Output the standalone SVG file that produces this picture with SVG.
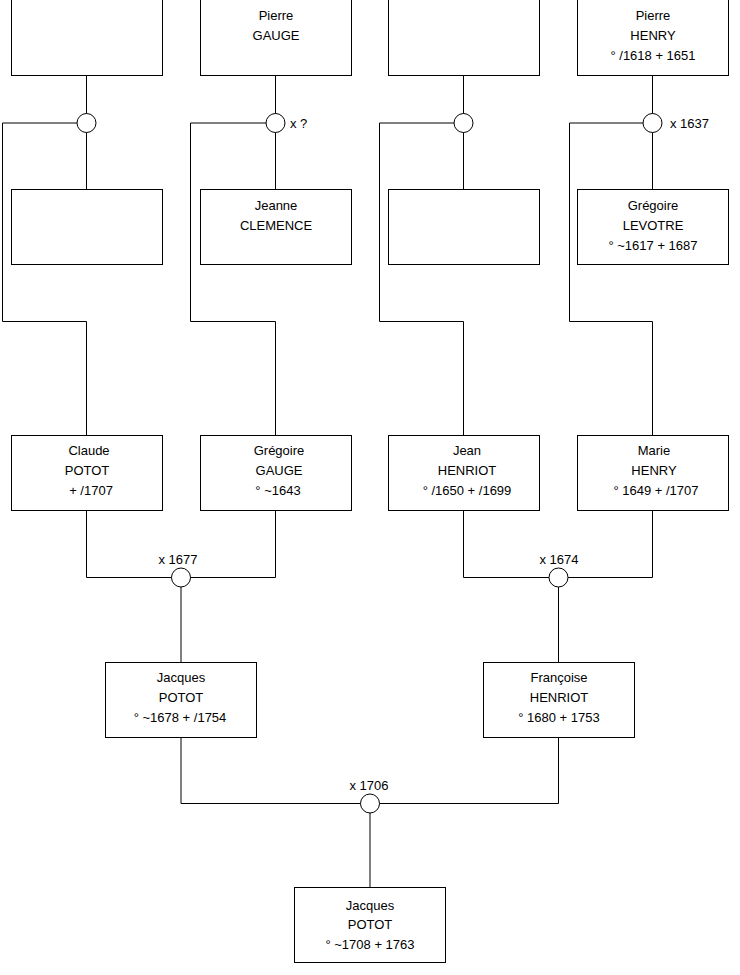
<svg xmlns="http://www.w3.org/2000/svg" width="740" height="975" viewBox="0 0 740 975">
<style>
.box{fill:#fff;stroke:#000;stroke-width:1}
.ln{fill:none;stroke:#000;stroke-width:1}
.ring{fill:#fff;stroke:#000;stroke-width:1}
text{font-family:"Liberation Sans",Arial,sans-serif;font-size:13px;fill:#000}
.c{text-anchor:middle}
</style>
<rect width="740" height="975" fill="#fff"/>
<g id="connectors">
<path class="ln" d="M86.5 75.5V189.5M86.5 123H2.5V321.5H86.5V435.5"/>
<path class="ln" d="M275.5 75.5V189.5M275.5 123H190.5V321.5H275.5V435.5"/>
<path class="ln" d="M463.5 75.5V189.5M463.5 123H379.5V321.5H463.5V435.5"/>
<path class="ln" d="M652.5 75.5V189.5M652.5 123H569.5V321.5H652.5V435.5"/>
<path class="ln" d="M86.5 510.5V577.5H275.5V510.5M181 577.5V662.5"/>
<path class="ln" d="M463.5 510.5V577.5H652.5V510.5M558.5 577.5V662.5"/>
<path class="ln" d="M181 737.5V803.5H558.5V737.5M370 803.5V887.5"/>
<circle class="ring" cx="86.5" cy="123" r="9.5"/>
<circle class="ring" cx="275.5" cy="123" r="9.5"/>
<circle class="ring" cx="463.5" cy="123" r="9.5"/>
<circle class="ring" cx="652.5" cy="123" r="9.5"/>
<circle class="ring" cx="181" cy="577.5" r="9.5"/>
<circle class="ring" cx="558.5" cy="577.5" r="9.5"/>
<circle class="ring" cx="370" cy="803.5" r="9.5"/>
<text x="290" y="127.5">x ?</text>
<text x="670" y="127.5">x 1637</text>
<text class="c" x="178" y="563.5">x 1677</text>
<text class="c" x="559" y="563.5">x 1674</text>
<text class="c" x="369" y="789.5">x 1706</text>
</g>
<g id="n1"><rect class="box" x="11.5" y="-0.5" width="151" height="76"/></g>
<g id="n2"><rect class="box" x="200.5" y="-0.5" width="151" height="76"/>
<text class="c" x="276" y="19.5">Pierre</text><text class="c" x="276" y="39.5">GAUGE</text></g>
<g id="n3"><rect class="box" x="388.5" y="-0.5" width="151" height="76"/></g>
<g id="n4"><rect class="box" x="577.5" y="-0.5" width="151" height="76"/>
<text class="c" x="653" y="19.5">Pierre</text><text class="c" x="653" y="39.5">HENRY</text><text class="c" x="653" y="59.5">° /1618 + 1651</text></g>
<g id="n5"><rect class="box" x="11.5" y="189.5" width="151" height="75"/></g>
<g id="n6"><rect class="box" x="200.5" y="189.5" width="151" height="75"/>
<text class="c" x="276" y="209.5">Jeanne</text><text class="c" x="276" y="229.5">CLEMENCE</text></g>
<g id="n7"><rect class="box" x="388.5" y="189.5" width="151" height="75"/></g>
<g id="n8"><rect class="box" x="577.5" y="189.5" width="151" height="75"/>
<text class="c" x="653" y="209.5">Grégoire</text><text class="c" x="653" y="229.5">LEVOTRE</text><text class="c" x="653" y="249.5">° ~1617 + 1687</text></g>
<g id="n9"><rect class="box" x="11.5" y="435.5" width="151" height="75"/>
<text class="c" x="89" y="455">Claude</text><text class="c" x="87" y="475">POTOT</text><text class="c" x="91" y="495">+ /1707</text></g>
<g id="n10"><rect class="box" x="200.5" y="435.5" width="151" height="75"/>
<text class="c" x="279" y="455">Grégoire</text><text class="c" x="279" y="475">GAUGE</text><text class="c" x="278" y="495">° ~1643</text></g>
<g id="n11"><rect class="box" x="388.5" y="435.5" width="151" height="75"/>
<text class="c" x="467" y="455">Jean</text><text class="c" x="467" y="475">HENRIOT</text><text class="c" x="467" y="495">° /1650 + /1699</text></g>
<g id="n12"><rect class="box" x="577.5" y="435.5" width="151" height="75"/>
<text class="c" x="654" y="455">Marie</text><text class="c" x="654" y="475">HENRY</text><text class="c" x="656" y="495">° 1649 + /1707</text></g>
<g id="n13"><rect class="box" x="105.5" y="662.5" width="151" height="75"/>
<text class="c" x="181" y="682">Jacques</text><text class="c" x="181" y="702">POTOT</text><text class="c" x="180" y="722">° ~1678 + /1754</text></g>
<g id="n14"><rect class="box" x="483.5" y="662.5" width="151" height="75"/>
<text class="c" x="559" y="682">Françoise</text><text class="c" x="559" y="702">HENRIOT</text><text class="c" x="559" y="722">° 1680 + 1753</text></g>
<g id="n15"><rect class="box" x="294.5" y="887.5" width="151" height="75"/>
<text class="c" x="370" y="909.5">Jacques</text><text class="c" x="370" y="929">POTOT</text><text class="c" x="370" y="949">° ~1708 + 1763</text></g>
</svg>
